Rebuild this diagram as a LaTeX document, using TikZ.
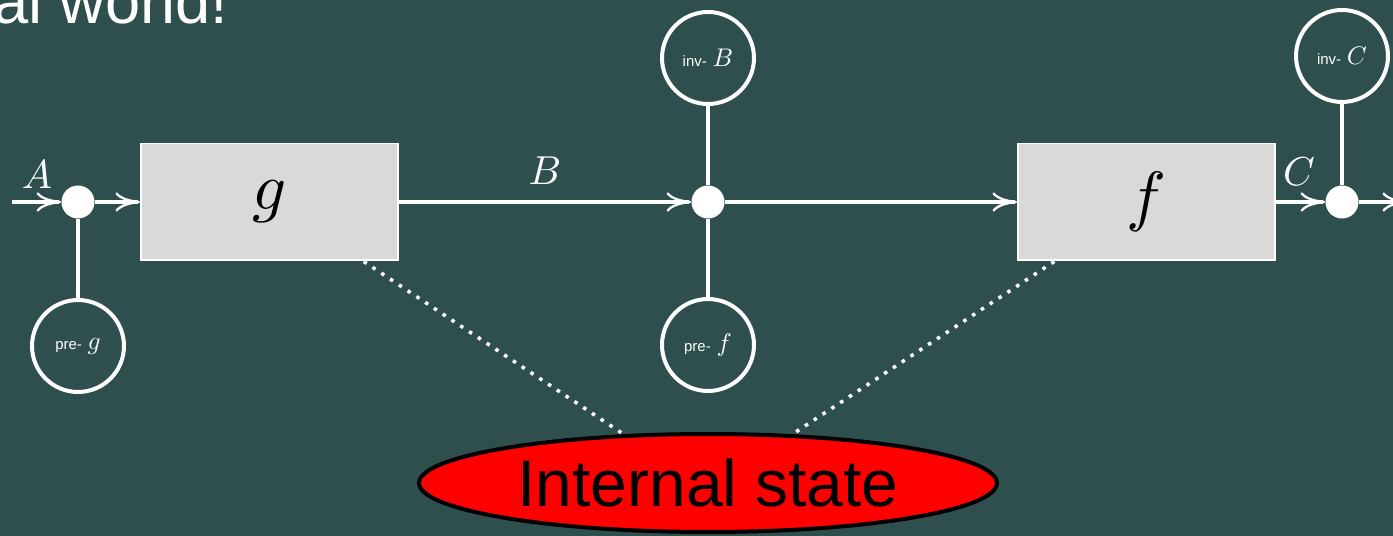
\documentclass[tikz,border=0pt]{standalone}
\usepackage{fontspec}
\newfontfamily\arial{Liberation Sans}
\usetikzlibrary{arrows.meta,shapes.geometric,calc}
\definecolor{bgc}{HTML}{2F4F4F}
\definecolor{boxc}{HTML}{D9D9D9}
\pgfdeclarelayer{back}
\pgfsetlayers{back,main}
\newcommand\smtxt{\arial\fontsize{8.5}{10}\selectfont}
\newcommand\mxbig[1]{\scalebox{3.8}{$#1$}}
\newcommand\mxlbl[1]{\scalebox{2.3}{$#1$}}
\newcommand\mxsm[1]{\scalebox{1.45}{$#1$}}
\begin{document}
\begin{tikzpicture}[x=0.02cm,y=-0.02cm,
  dot/.style={circle,fill=white,minimum size=0.66cm,inner sep=0},
  fbox/.style={rectangle,fill=boxc,draw=white,line width=1.13pt,minimum width=5.14cm,minimum height=2.34cm,inner sep=0,font=\fontsize{10}{12}\selectfont},
  cond/.style={circle,draw=white,line width=2.27pt,minimum size=1.84cm,inner sep=0,text=white,font=\fontsize{10}{12}\selectfont},
  arr/.style={draw=white,line width=2.27pt,-{To[length=14pt,width=11pt,line width=1.3pt]}},
  link/.style={draw=white,line width=2.27pt},
  lbl/.style={text=white,font=\fontsize{10}{12}\selectfont,inner sep=0},
  dots/.style={draw=white,line width=2pt,dash pattern=on 2pt off 4pt},
  statebox/.style={ellipse,fill=red,draw=black,line width=2.27pt,minimum width=11.56cm,minimum height=1.96cm,inner sep=0,font=\arial\fontsize{37.5}{40}\selectfont}
]
\useasboundingbox (0,0) rectangle (1393,536);

\node[anchor=base east,text=white,inner sep=0,font=\arial\fontsize{36}{40}\selectfont] (title) at (229,24) {al world!};

\node[dot] (dotA) at (78,202) {};
\node[dot] (dotB) at (708,202) {};
\node[dot] (dotC) at (1342,202) {};
\node[fbox] (g) at (269.5,202) {\mxbig{g}};
\node[fbox] (f) at (1146.5,202) {\mxbig{f}};
\node[cond] (preG) at (78,346) {{\smtxt pre-} \mxsm{g}};
\node[cond] (invB) at (708,58) {{\smtxt inv-} \mxsm{B}};
\node[cond] (preF) at (708,345) {{\smtxt pre-} \mxsm{f}};
\node[cond] (invC) at (1342,56) {{\smtxt inv-} \mxsm{C}};
\node[statebox] (state) at (708,483) {Internal state};

\node[lbl] (lA) at (37,175) {\mxlbl{A}};
\node[lbl] (lB) at (545,171) {\mxlbl{B}};
\node[lbl] (lC) at (1299,172) {\mxlbl{C}};

\coordinate (in) at (12,202);
\coordinate (out) at (1407,202);
\draw[arr] (in) -- (dotA);
\draw[arr] (dotA) -- (g);
\draw[arr] (g) -- (dotB);
\draw[arr] (dotB) -- (f);
\draw[arr] (f) -- (dotC);
\draw[arr] (dotC) -- (out);
\draw[link] (dotA) -- (preG);
\draw[link] (dotB) -- (invB);
\draw[link] (dotB) -- (preF);
\draw[link] (dotC) -- (invC);

\begin{pgfonlayer}{back}
\fill[bgc] (0,0) rectangle (1393,536);
\draw[dots] ($(g.south west)!0.864!(g.south east)$) -- (state.150.5);
\draw[dots] ($(f.south west)!0.144!(f.south east)$) -- (state.30);
\end{pgfonlayer}
\end{tikzpicture}
\end{document}
